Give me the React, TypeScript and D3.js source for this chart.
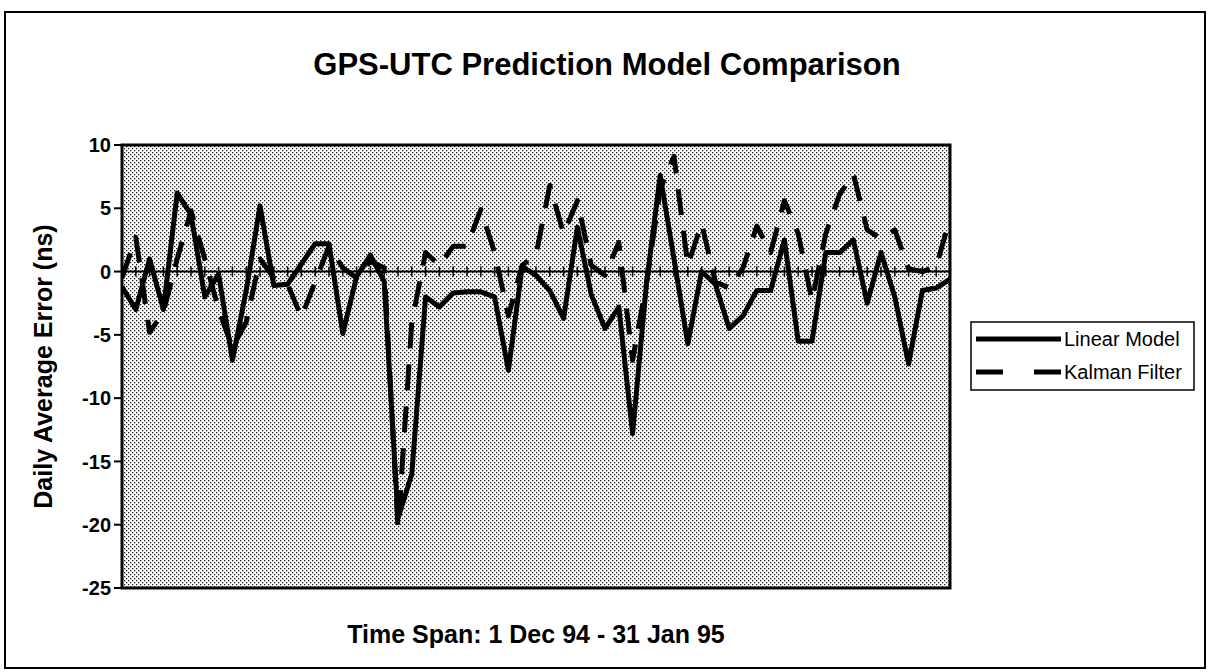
import React from "react";
import * as d3 from "d3";

// Daily average error (ns), 1 Dec 94 - 31 Jan 95
const linearModel: number[] = [
  -1.2, -3.0, 1.0, -3.0, 6.2, 4.5, -2.0, -0.2, -7.0, -1.5,
  5.2, -1.1, -1.0, 0.6, 2.2, 2.2, -4.9, -0.4, 1.3, -0.8,
  -19.5, -16.0, -2.0, -2.8, -1.7, -1.6, -1.6, -2.0, -7.8, 0.4,
  -0.3, -1.5, -3.7, 3.5, -1.8, -4.5, -2.8, -12.8, -1.0, 7.6,
  1.0, -5.7, 0.0, -1.0, -4.5, -3.5, -1.5, -1.5, 2.5, -5.5,
  -5.5, 1.5, 1.5, 2.5, -2.5, 1.5, -2.0, -7.3, -1.5, -1.3,
  -0.6,
];

const kalmanFilter: number[] = [
  -0.5, 2.7, -4.8, -3.2, 1.0, 4.8, 1.0, -3.0, -6.0, -4.0,
  1.0, -0.5, -1.0, -3.6, -0.8, 2.0, 0.3, -0.5, 0.8, 0.3,
  -20.3, -4.0, 1.5, 0.5, 2.0, 2.0, 4.9, 1.5, -3.5, 0.5,
  1.3, 6.8, 3.0, 5.6, 0.5, -0.3, 2.3, -7.0, -1.0, 6.5,
  9.1, 0.5, 3.8, -0.8, -1.3, 0.3, 3.6, 1.5, 5.6, 3.0,
  -2.3, 3.0, 6.1, 7.7, 3.3, 2.6, 3.3, 0.2, 0.0, 0.4,
  4.2,
];

const yTicks: number[] = [10, 5, 0, -5, -10, -15, -20, -25];

const seriesNames: string[] = ["Linear Model", "Kalman Filter"];

const titleText = "GPS-UTC Prediction Model Comparison";
const xTitleText = "Time Span: 1 Dec 94 - 31 Jan 95";
const yTitleText = "Daily Average Error (ns)";

const W = 1210;
const H = 672;
const plot = { left: 122, right: 950, top: 145, bottom: 588 };
const FONT = "'Liberation Sans', Arial, Helvetica, sans-serif";

export default function App() {
  const days = d3.range(linearModel.length);
  const x = d3
    .scaleLinear()
    .domain([0, days.length - 1])
    .range([plot.left, plot.right]);
  const y = d3.scaleLinear().domain([-25, 10]).range([plot.bottom, plot.top]);

  const line = d3
    .line<number>()
    .x((_, i) => x(i))
    .y((d) => y(d));

  const pw = plot.right - plot.left;
  const ph = plot.bottom - plot.top;
  const y0 = y(0);

  return (
    <svg
      width={W}
      height={H}
      style={{ position: "absolute", left: 0, top: 0, background: "#fff" }}
      fontFamily={FONT}
    >
      <defs>
        <pattern id="halftone" patternUnits="userSpaceOnUse" width="4" height="4">
          <rect width="4" height="4" fill="#ffffff" />
          <rect x="0" y="0" width="1.3" height="1.3" fill="#222" />
          <rect x="2" y="2" width="1.3" height="1.3" fill="#222" />
        </pattern>
        <clipPath id="plotClip">
          <rect x={plot.left} y={plot.top - 2} width={pw} height={ph + 4} />
        </clipPath>
      </defs>

      {/* outer frame */}
      <rect x={5} y={12} width={1200} height={656} fill="none" stroke="#000" strokeWidth={2} />

      {/* title */}
      <text
        x={607}
        y={75}
        textAnchor="middle"
        fontSize={31}
        fontWeight="bold"
        fill="#000"
      >
        {titleText}
      </text>

      {/* plot background */}
      <rect x={plot.left} y={plot.top} width={pw} height={ph} fill="url(#halftone)" />

      {/* zero axis line with category ticks */}
      <line x1={plot.left} x2={plot.right} y1={y0} y2={y0} stroke="#000" strokeWidth={2} />
      {days.map((d) => (
        <line
          key={"xt" + d}
          x1={x(d)}
          x2={x(d)}
          y1={y0 - 5}
          y2={y0 + 5}
          stroke="#000"
          strokeWidth={1.5}
        />
      ))}

      {/* series */}
      <g clipPath="url(#plotClip)">
        <path
          d={line(kalmanFilter) || ""}
          fill="none"
          stroke="#000"
          strokeWidth={5}
          strokeDasharray="26 16"
          strokeLinejoin="round"
        />
        <path
          d={line(linearModel) || ""}
          fill="none"
          stroke="#000"
          strokeWidth={5}
          strokeLinejoin="round"
        />
      </g>

      {/* plot border */}
      <rect
        x={plot.left}
        y={plot.top}
        width={pw}
        height={ph}
        fill="none"
        stroke="#000"
        strokeWidth={3}
      />

      {/* y axis ticks and labels */}
      {yTicks.map((t) => (
        <g key={"yt" + t}>
          <line x1={plot.left - 8} x2={plot.left} y1={y(t)} y2={y(t)} stroke="#000" strokeWidth={2} />
          <text
            x={plot.left - 11}
            y={y(t)}
            dy="0.36em"
            textAnchor="end"
            fontSize={20}
            fontWeight="bold"
            fill="#000"
          >
            {t}
          </text>
        </g>
      ))}

      {/* y axis title */}
      <text
        transform={`translate(52, ${(plot.top + plot.bottom) / 2}) rotate(-90)`}
        textAnchor="middle"
        fontSize={25}
        fontWeight="bold"
        fill="#000"
      >
        {yTitleText}
      </text>

      {/* x axis title */}
      <text
        x={(plot.left + plot.right) / 2}
        y={643}
        textAnchor="middle"
        fontSize={25}
        fontWeight="bold"
        fill="#000"
      >
        {xTitleText}
      </text>

      {/* legend */}
      <g>
        <rect x={971} y={322} width={223} height={68} fill="#fff" stroke="#000" strokeWidth={1.5} />
        <line x1={976} x2={1061} y1={339} y2={339} stroke="#000" strokeWidth={5} />
        <line
          x1={976}
          x2={1061}
          y1={372}
          y2={372}
          stroke="#000"
          strokeWidth={5}
          strokeDasharray="27 31"
        />
        <text x={1064} y={346} fontSize={20} fill="#000">
          {seriesNames[0]}
        </text>
        <text x={1064} y={379} fontSize={20} fill="#000">
          {seriesNames[1]}
        </text>
      </g>
    </svg>
  );
}
